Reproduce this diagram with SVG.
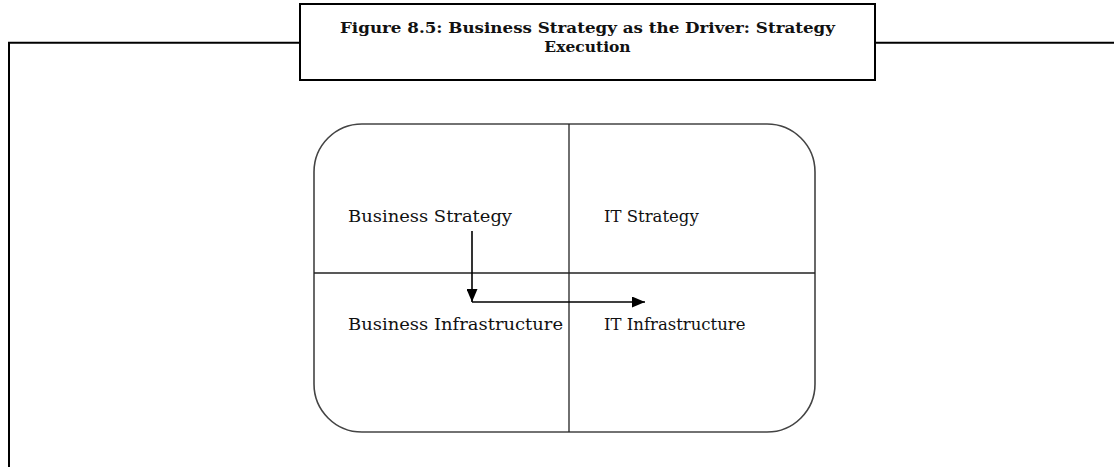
<svg xmlns="http://www.w3.org/2000/svg" width="1114" height="467" viewBox="0 0 1114 467">
<style>
.frame{fill:none;stroke:#000;stroke-width:2}
.cap{font-family:"DejaVu Serif","Liberation Serif",serif;font-weight:bold;font-size:15.5px;fill:#111}
.lbl{font-family:"DejaVu Serif","Liberation Serif",serif;font-size:16.5px;fill:#111}
.box{fill:none;stroke:#444;stroke-width:1.6}
.div{fill:none;stroke:#222;stroke-width:1.3}
.arr{fill:none;stroke:#000;stroke-width:1.6}
</style>
<defs>
<marker id="ah" markerWidth="13" markerHeight="11" refX="13" refY="5.5" orient="auto" markerUnits="userSpaceOnUse">
<path d="M0,0 L13,5.5 L0,11 Z" fill="#000"/>
</marker>
</defs>
<rect width="1114" height="467" fill="#fff"/>
<g id="frame">
<path class="frame" d="M9,467 V42.7 H300 M875,42.7 H1114"/>
</g>
<g id="caption">
<rect class="frame" x="300" y="4" width="575" height="76" fill="#fff"/>
<text class="cap" x="587.5" y="33" text-anchor="middle" textLength="495" lengthAdjust="spacingAndGlyphs">Figure 8.5: Business Strategy as the Driver: Strategy</text>
<text class="cap" x="587.5" y="52" text-anchor="middle">Execution</text>
</g>
<g id="matrix">
<rect class="box" x="314" y="124" width="501" height="308" rx="48" ry="48"/>
<line class="div" x1="569" y1="124" x2="569" y2="432"/>
<line class="div" x1="314" y1="273" x2="815" y2="273"/>
</g>
<g id="business-strategy"><text class="lbl" x="348" y="222" textLength="164" lengthAdjust="spacingAndGlyphs">Business Strategy</text></g>
<g id="it-strategy"><text class="lbl" x="604" y="222">IT Strategy</text></g>
<g id="business-infrastructure"><text class="lbl" x="348" y="330" textLength="215" lengthAdjust="spacingAndGlyphs">Business Infrastructure</text></g>
<g id="it-infrastructure"><text class="lbl" x="604" y="330">IT Infrastructure</text></g>
<g id="connectors">
<line class="arr" x1="472" y1="231" x2="472" y2="302" marker-end="url(#ah)"/>
<line class="arr" x1="472" y1="302" x2="645" y2="302" marker-end="url(#ah)"/>
</g>
</svg>
